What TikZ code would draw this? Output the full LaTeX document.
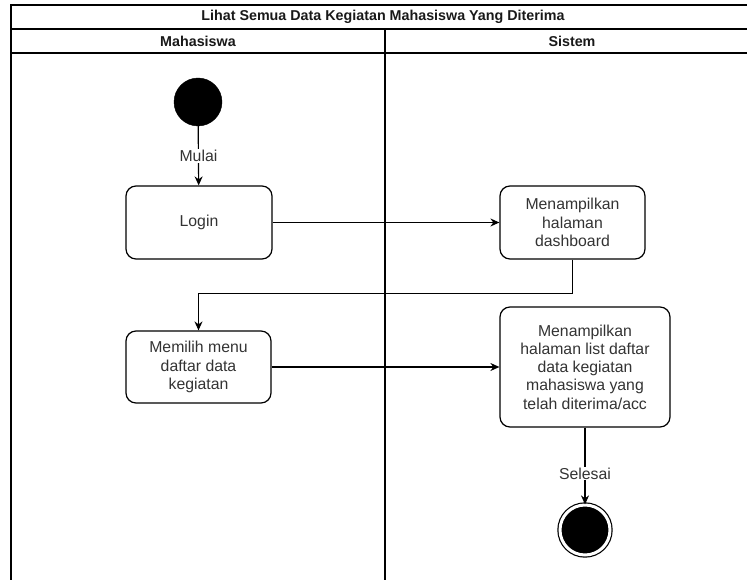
\documentclass[tikz,border=0pt]{standalone}
\usepackage{fontspec}
\setmainfont{Liberation Sans}
\usepackage{tikz}
\usetikzlibrary{arrows.meta}

\begin{document}
\begin{tikzpicture}[x=1pt,y=-1pt]
					\tikzstyle{activity}=[draw=black,line width=1.2pt,rounded corners=10pt,text=black!80,align=center,font=\fontsize{15.8}{18.3}\selectfont,inner sep=0pt]
					\tikzstyle{startnode}=[circle,fill=black,draw=black,minimum size=48pt,inner sep=0pt]
					\tikzstyle{endnode}=[circle,fill=black,draw=black,line width=1.2pt,double=white,double distance=3pt,minimum size=50pt,inner sep=0pt]
					\tikzstyle{lbl}=[fill=white,text=black!80,font=\fontsize{15.8}{18.3}\selectfont,inner sep=1pt]
					\tikzstyle{head}=[font=\bfseries\fontsize{14.3}{16}\selectfont,text=black!90]
					\tikzstyle{flow}=[line width=1.2pt,-{Stealth[length=9pt,width=8pt]}]
					\clip (0,0) rectangle (747,580);
					% swimlane frame
					\draw[line width=1.5pt] (11,590) -- (11,5) -- (770,5);
					\draw[line width=1.5pt] (11,29) -- (770,29);
					\draw[line width=1.5pt] (11,53) -- (770,53);
					\draw[line width=1.5pt] (385,29) -- (385,590);
					\node[head](judul) at (383,17) {Lihat Semua Data Kegiatan Mahasiswa Yang Diterima};
					\node[head](mhs) at (198,41.5) {Mahasiswa};
					\node[head](sys) at (572,41.5) {Sistem};
					% activities
					\node[startnode](mulai) at (198,102) {};
					\node[activity,minimum width=146pt,minimum height=73pt](login) at (199,222.5) {Login};
					\node[activity,minimum width=145pt,minimum height=73pt](dash) at (572.5,222.5) {Menampilkan\\halaman\\dashboard};
					\node[activity,minimum width=145pt,minimum height=72pt](pilih) at (198.5,367) {Memilih menu\\daftar data\\kegiatan};
					\node[activity,minimum width=170pt,minimum height=120pt](list) at (585,367) {Menampilkan\\halaman list daftar\\data kegiatan\\mahasiswa yang\\telah diterima/acc};
					\node[endnode](selesai) at (585,530) {};
					\path[flow]
						(mulai) edge node[lbl] {Mulai} (login)
						(login) edge node {} (dash)
						(pilih) edge node {} (list)
						(list) edge node[lbl,pos=0.6] {Selesai} (selesai);
					\draw[flow] (dash.south) -- ++(0,34) -| (pilih.north);
				\end{tikzpicture}
\end{document}
